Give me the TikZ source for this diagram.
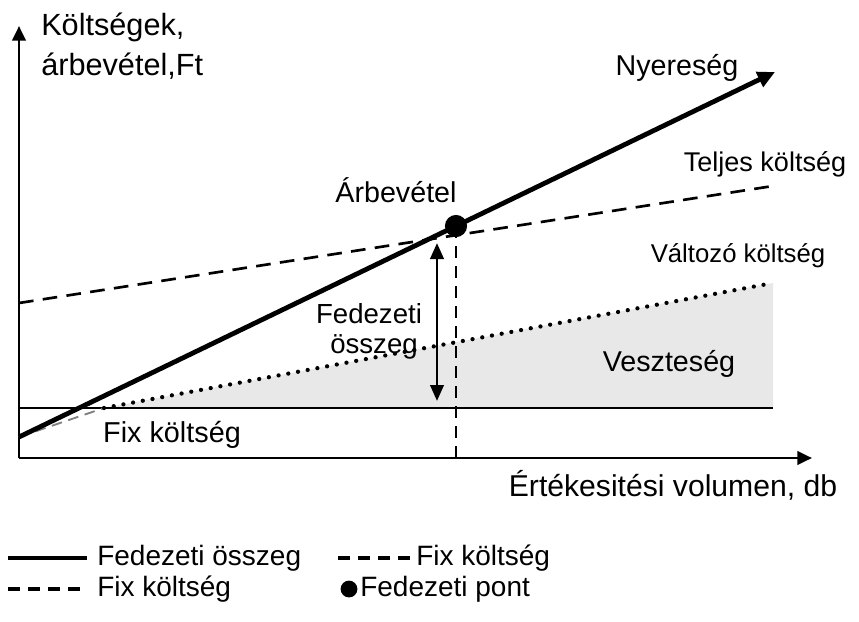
\documentclass[tikz,border=0pt]{standalone}
\usepackage{fontspec}
\setmainfont{Liberation Sans}
\usetikzlibrary{arrows.meta}

\newcommand{\fs}[1]{\fontsize{#1}{1.18\dimexpr#1pt\relax}\selectfont}

\begin{document}
\begin{tikzpicture}[x=0.75pt,y=-0.75pt,
  font=\fs{21},
  lbl/.style={inner sep=0pt, anchor=center},
  bl/.style={inner sep=0pt, anchor=base},
  axisline/.style={line width=2.1pt, -{Triangle[length=11pt,width=10pt]}},
  revline/.style={line width=3.6pt, -{Triangle[length=13pt,width=12pt]}},
  fixline/.style={line width=1.9pt},
  totline/.style={line width=2pt, dash pattern=on 11pt off 7pt},
  varline/.style={line width=3.2pt, line cap=round, dash pattern=on 0pt off 7.4pt},
  startline/.style={line width=1.4pt, gray, dash pattern=on 8pt off 5pt},
  vdash/.style={line width=1.8pt, dash pattern=on 9pt off 6pt},
  marginarrow/.style={line width=2.2pt, {Triangle[length=12pt,width=10pt]}-{Triangle[length=12pt,width=10pt]}},
  legdash/.style={line width=2.4pt, dash pattern=on 9pt off 6pt},
  lossfill/.style={fill=black!9, draw=none}
]
\useasboundingbox (0,0) rectangle (859,621);

% reference points
\coordinate (O)    at (19,458);
\coordinate (ytop) at (19,26);
\coordinate (xend) at (812,458);
\coordinate (s0)   at (19,437);
\coordinate (rev)  at (775,72);
\coordinate (be)   at (456,226);
\coordinate (fixL) at (19,408);
\coordinate (fixR) at (773,408);
\coordinate (varS) at (104,408);
\coordinate (varE) at (773,283);
\coordinate (totL) at (19,303);
\coordinate (totR) at (773,186);
\coordinate (beX)  at (456,458);
\coordinate (mTop) at (437,243);
\coordinate (mBot) at (437,401);

% loss area under the variable cost line
\path[lossfill] (varS) -- (varE) -- (fixR) -- cycle;

% axes
\draw[axisline] (O) -- (ytop);
\draw[axisline] (O) -- (xend);

% cost and revenue lines
\draw[fixline] (fixL) -- (fixR);
\draw[startline] (s0) -- (varS);
\draw[varline] (varS) -- (varE);
\draw[totline] (totL) -- (totR);
\draw[vdash] (be) -- (beX);
\draw[revline] (s0) -- (rev);
\draw[marginarrow] (mTop) -- (mBot);
\fill (be) circle (8.3pt);

% labels
\node[bl, anchor=base west, font=\fs{23}] (ylab1) at (41,35) {Költségek,};
\node[bl, anchor=base west, font=\fs{23}] (ylab2) at (41,75) {árbevétel,Ft};
\node[lbl, font=\fs{21.5}] (nyer) at (677,68) {Nyereség};
\node[lbl, font=\fs{20.3}] (telj) at (765,164) {Teljes költség};
\node[lbl, font=\fs{21.5}] (arb)  at (396,190) {Árbevétel};
\node[lbl, font=\fs{19.3}] (valt) at (738,256) {Változó költség};
\node[bl, font=\fs{20.7}] (fed1) at (369,323) {Fedezeti};
\node[bl, font=\fs{20.7}] (fed2) at (374,353) {összeg};
\node[lbl, font=\fs{21.5}] (vesz) at (669,364) {Veszteség};
\node[lbl, font=\fs{21.6}] (fixl) at (172,435) {Fix költség};
\node[bl, font=\fs{22.6}] (xlab) at (673,496) {Értékesitési volumen, db};

% legend
\coordinate (l1a) at (8,558);
\coordinate (l1b) at (87,558);
\coordinate (l2a) at (338,558);
\coordinate (l2b) at (410,558);
\coordinate (l3a) at (8,589);
\coordinate (l3b) at (87,589);
\draw[line width=2.4pt] (l1a) -- (l1b);
\node[lbl, anchor=west] (leg1) at (97,558) {Fedezeti összeg};
\draw[legdash] (l2a) -- (l2b);
\node[lbl, anchor=west] (leg2) at (416,558) {Fix költség};
\draw[legdash] (l3a) -- (l3b);
\node[lbl, anchor=west] (leg3) at (97,589) {Fix költség};
\fill (349,589) circle (6.3pt) coordinate (legdot);
\node[lbl, anchor=west] (leg4) at (360,589) {Fedezeti pont};
\end{tikzpicture}
\end{document}
